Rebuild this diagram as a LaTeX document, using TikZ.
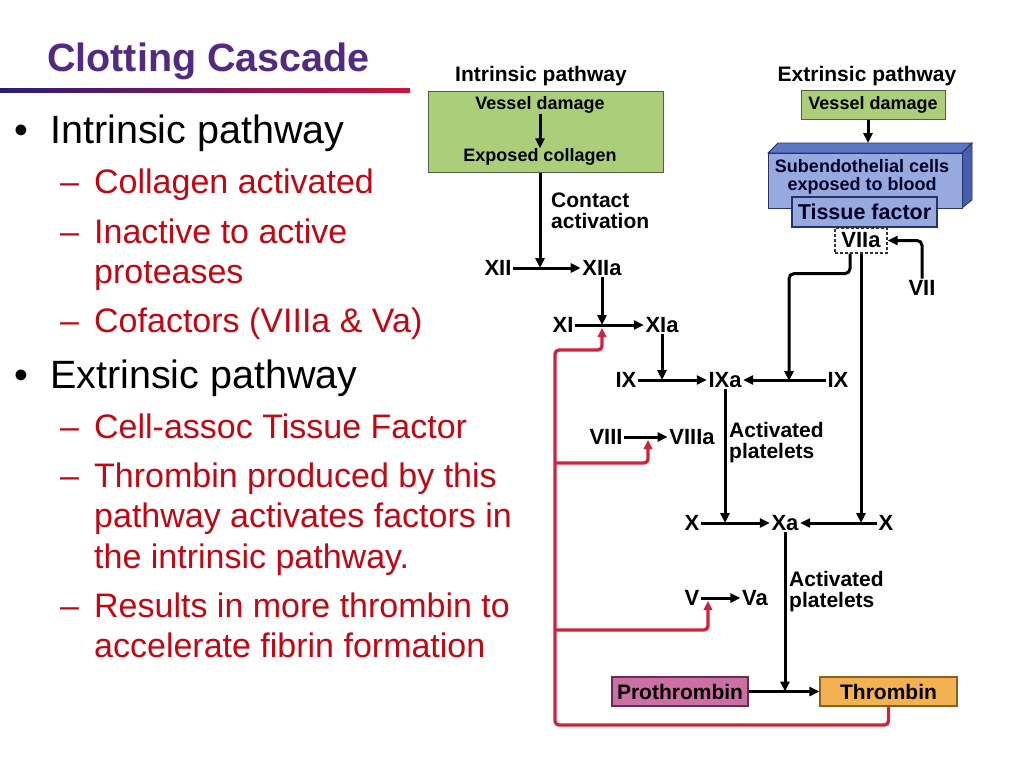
\documentclass[tikz,border=0pt]{standalone}
\usepackage{fontspec}
\setmainfont{Liberation Sans}
\usetikzlibrary{arrows.meta,calc}
\definecolor{ttl}{RGB}{82,42,128}
\definecolor{redtxt}{RGB}{190,8,20}
\definecolor{redln}{RGB}{205,35,60}
\definecolor{gfill}{RGB}{170,206,122}
\definecolor{gborder}{RGB}{80,95,70}
\definecolor{bfront}{RGB}{150,170,224}
\definecolor{btop}{RGB}{92,118,198}
\definecolor{bright}{RGB}{70,95,178}
\definecolor{bborder}{RGB}{40,50,105}
\definecolor{pfill}{RGB}{202,112,162}
\definecolor{pborder}{RGB}{105,45,85}
\definecolor{tfill}{RGB}{242,178,82}
\definecolor{tborder}{RGB}{140,95,30}
\definecolor{gradl}{RGB}{40,30,120}
\definecolor{gradr}{RGB}{205,20,60}
\begin{document}
\begin{tikzpicture}[x=1pt,y=-1pt,
  mt/.style={anchor=base west, inner sep=0pt, font=\fontsize{39.5}{46}\selectfont},
  lt/.style={anchor=base west, inner sep=0pt, font=\fontsize{34}{40}\selectfont, text=redtxt},
  fac/.style={font=\bfseries\fontsize{22}{24}\selectfont, inner sep=1.5pt},
  lbl/.style={font=\bfseries\fontsize{21}{21}\selectfont, inner sep=0pt, align=left},
  hd/.style={font=\bfseries\fontsize{21}{24}\selectfont, inner sep=0pt},
  sm/.style={font=\bfseries\fontsize{18}{18}\selectfont, inner sep=0pt, align=center},
  arr/.style={line width=3pt, -{Triangle[length=10pt,width=9pt]}},
  rarr/.style={line width=3.3pt, draw=redln, rounded corners=4pt, -{Triangle[length=9pt,width=8.5pt]}}
]
\useasboundingbox[fill=white] (0,0) rectangle (1024,768);

% ---------- title ----------
\node[anchor=base west, inner sep=0pt, text=ttl, font=\bfseries\fontsize{39.5}{46}\selectfont] (title) at (47,71) {Clotting Cascade};
\shade[left color=gradl, right color=gradr] (0,88) rectangle (410,92.5);

% ---------- left text ----------
\node[mt] (b1) at (14,143) {•};
\node[mt] (t1) at (50,143) {Intrinsic pathway};
\node[lt] (d1) at (60,193) {–};
\node[lt] (t2) at (94,193) {Collagen activated};
\node[lt] (d2) at (60,243) {–};
\node[lt] (t3) at (94,243) {Inactive to active};
\node[lt] (t3b) at (94,283) {proteases};
\node[lt] (d3) at (60,332) {–};
\node[lt] (t4) at (94,332) {Cofactors (VIIIa \& Va)};
\node[mt] (b2) at (14,388) {•};
\node[mt] (t5) at (50,388) {Extrinsic pathway};
\node[lt] (d5) at (60,438) {–};
\node[lt] (t6) at (94,438) {Cell-assoc Tissue Factor};
\node[lt] (d6) at (60,487) {–};
\node[lt] (t7) at (94,487) {Thrombin produced by this};
\node[lt] (t7b) at (94,527) {pathway activates factors in};
\node[lt] (t7c) at (94,568) {the intrinsic pathway.};
\node[lt] (d7) at (60,617) {–};
\node[lt] (t8) at (94,617) {Results in more thrombin to};
\node[lt] (t8b) at (94,657) {accelerate fibrin formation};

% ---------- intrinsic top ----------
\node[hd] (ilab) at (541,76) {Intrinsic pathway};
\node[draw=gborder, fill=gfill, line width=1pt, minimum width=235pt, minimum height=81pt, inner sep=0pt] (gbox) at (545.5,131.5) {};
\node[sm] (vd1) at (540,105) {Vessel damage};
\node[sm] (ec) at (540,157) {Exposed collagen};
\draw[arr] (vd1.south) -- (ec.north);

% ---------- extrinsic top ----------
\node[hd] (elab) at (867,76) {Extrinsic pathway};
\node[draw=gborder, fill=gfill, line width=1pt, minimum width=144pt, minimum height=29pt, inner sep=0pt, sm] (vd2) at (873,104.5) {Vessel damage};
\fill[btop, draw=bborder, line width=0.8pt] (768,153) -- (778,143) -- (972,143) -- (962,153) -- cycle;
\fill[bright, draw=bborder, line width=0.8pt] (962,153) -- (972,143) -- (972,200) -- (962,208) -- cycle;
\node[draw=bborder, fill=bfront, line width=0.8pt, minimum width=194pt, minimum height=55pt, inner sep=0pt] (sub) at (865,180.5) {};
\node[sm, text=black!85!blue] (subt) at (862,177) {Subendothelial cells\\exposed to blood};
\node[draw=bborder, fill=bfront, line width=1.1pt, minimum width=145pt, minimum height=30pt, inner sep=0pt, font=\bfseries\fontsize{21.5}{24}\selectfont, text=black!85!blue] (tf) at (864.5,212) {Tissue factor};
\coordinate (topface) at (868,143);
\draw[arr] (vd2.south -| topface) -- (topface);

\node[fac, draw=black!80, dash pattern=on 3pt off 2pt, line width=1.2pt, fill=white, minimum width=52pt, minimum height=25pt, inner sep=0pt] (VIIa) at (861,240.5) {VIIa};
\node[fac] (VII) at (922,288) {VII};

% ---------- factors ----------
\node[fac] (XII) at (498,268) {XII};
\node[fac] (XIIa) at (602,268) {XIIa};
\node[fac] (XI) at (563,325) {XI};
\node[fac] (XIa) at (662,325) {XIa};
\node[fac] (IXl) at (626,380) {IX};
\node[fac] (IXa) at (725,380) {IXa};
\node[fac] (IXr) at (838,380) {IX};
\node[fac] (VIII) at (606,437) {VIII};
\node[fac] (VIIIa) at (692,437) {VIIIa};
\node[fac] (Xl) at (692,523) {X};
\node[fac] (Xa) at (785,523) {Xa};
\node[fac] (Xr) at (886,523) {X};
\node[fac] (V) at (692,598) {V};
\node[fac] (Va) at (755,598) {Va};
\node[draw=pborder, fill=pfill, line width=1.1pt, minimum width=136pt, minimum height=29pt, inner sep=0pt, font=\bfseries\fontsize{21}{24}\selectfont] (pro) at (680,691.5) {Prothrombin};
\node[draw=tborder, fill=tfill, line width=1.1pt, minimum width=137pt, minimum height=29pt, inner sep=0pt, font=\bfseries\fontsize{21}{24}\selectfont] (thr) at (888.5,691.5) {Thrombin};

% labels
\node[lbl, anchor=west] (ca) at (551,211) {Contact\\activation};
\node[lbl, anchor=west] (ap1) at (729,443) {Activated\\platelets};
\node[lbl, anchor=west] (ap2) at (789,592) {Activated\\platelets};

% ---------- black connectors ----------
\draw[arr] (ec.south |- gbox.south) -- (ec.south |- XII);
\draw[arr] (XII.east) -- (XIIa.west);
\draw[arr] (XIIa.south) -- (XIIa.south |- XI);
\draw[arr] (XI.east) -- (XIa.west);
\draw[arr] (XIa.south) -- (XIa.south |- IXl);
\draw[arr] (IXl.east) -- (IXa.west);
\draw[arr] (IXr.west) -- (IXa.east);
\coordinate (j1) at (789,381);
\draw[arr, rounded corners=5pt] ([xshift=-11pt]VIIa.south) -- ++(0,20) -| (j1);
\draw[arr] (VIIa.south) -- (VIIa.south |- Xr);
\draw[arr, rounded corners=5pt] (VII.north) |- (VIIa.east);
\draw[arr] (VIII.east) -- (VIIIa.west);
\draw[arr] (IXa.south) -- (IXa.south |- Xl);
\draw[arr] (Xl.east) -- (Xa.west);
\draw[arr] (Xr.west) -- (Xa.east);
\draw[arr] (Xa.south) -- (Xa.south |- pro);
\draw[arr] (V.east) -- (Va.west);
\draw[arr] (pro.east) -- (thr.west);

% ---------- red feedback ----------
\coordinate (rb) at (555,725);
\coordinate (rt) at (555,350);
\coordinate (tXI) at ($(XIIa.south |- XI)+(0,3)$);
\draw[rarr] (thr.south) |- (rb) -- (rt) -| (tXI);
\coordinate (br1) at (555,463);
\coordinate (tVIII) at (648,440);
\draw[rarr] (br1) -| (tVIII);
\coordinate (br2) at (555,630);
\coordinate (tV) at (708,601);
\draw[rarr] (br2) -| (tV);
\end{tikzpicture}
\end{document}
